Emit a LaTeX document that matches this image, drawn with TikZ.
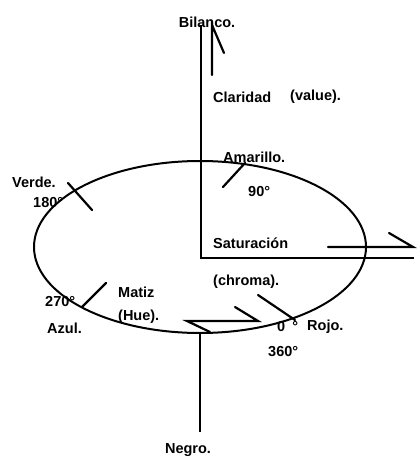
\documentclass[tikz,border=0pt]{standalone}
\usepackage{fontspec}
\setmainfont{Liberation Sans}

\begin{document}
\begin{tikzpicture}[x=1pt,y=-1pt,
        eje/.style={line width=2pt},
        trazo/.style={line width=2.2pt, line cap=round},
        rotulo/.style={inner sep=0pt, anchor=west, font=\fontsize{14.5}{16}\selectfont\bfseries}]
        \useasboundingbox (0,0) rectangle (416,457);

        % ejes: claridad (vertical) y saturacion (horizontal)
        \coordinate (blanco) at (201,25);
        \coordinate (origen) at (201,258);
        \coordinate (limite) at (414,258);
        \coordinate (fondo) at (200,333);
        \coordinate (negro) at (200,432);
        \draw[eje] (blanco) -- (origen) -- (limite);
        \draw[eje] (fondo) -- (negro);

        % circulo de matiz
        \coordinate (centro) at (200,247);
        \draw[eje] (centro) ellipse [x radius=166, y radius=86];

        % flechas con media punta
        \coordinate (c1) at (212,75);  \coordinate (c2) at (212,25);  \coordinate (c3) at (224,53);
        \draw[trazo] (c1) -- (c2) -- (c3);
        \coordinate (s1) at (328,247); \coordinate (s2) at (413,247); \coordinate (s3) at (389,233);
        \draw[trazo] (s1) -- (s2) -- (s3);
        \coordinate (m1) at (210,332); \coordinate (m2) at (187,321);
        \coordinate (m3) at (258,321); \coordinate (m4) at (235,307);
        \draw[trazo] (m1) -- (m2) -- (m3) -- (m4);

        % marcas de los angulos
        \coordinate (v1) at (68,183);  \coordinate (v2) at (92,210);
        \coordinate (a1) at (223,187); \coordinate (a2) at (245,163);
        \coordinate (z1) at (82,307);  \coordinate (z2) at (106,283);
        \coordinate (r1) at (258,295); \coordinate (r2) at (295,320);
        \draw[trazo] (v1) -- (v2);
        \draw[trazo] (a1) -- (a2);
        \draw[trazo] (z1) -- (z2);
        \draw[trazo] (r1) -- (r2);

        % rotulos
        \node[rotulo, anchor=center] (bilanco) at (207,22) {Bilanco.};
        \node[rotulo] (claridad) at (213,97) {Claridad};
        \node[rotulo] (value) at (290,97) {(value).};
        \node[rotulo] (amarillo) at (223,157) {Amarillo.};
        \node[rotulo] (noventa) at (248,192) {90°};
        \node[rotulo] (verde) at (12,182) {Verde.};
        \node[rotulo] (ciento) at (33,203) {180°};
        \node[rotulo] (saturacion) at (213,243) {Saturación};
        \node[rotulo] (chroma) at (213,282) {(chroma).};
        \node[rotulo] (matiz) at (118,292) {Matiz};
        \node[rotulo] (hue) at (118,317) {(Hue).};
        \node[rotulo] (doscientos) at (45,302) {270°};
        \node[rotulo] (azul) at (47,328) {Azul.};
        \node[rotulo] (cero) at (277,327) {0\hspace{7pt}°};
        \node[rotulo] (rojo) at (307,327) {Rojo.};
        \node[rotulo] (trescientos) at (268,352) {360°};
        \node[rotulo, anchor=center] (negrotxt) at (188,450) {Negro.};
\end{tikzpicture}
\end{document}
